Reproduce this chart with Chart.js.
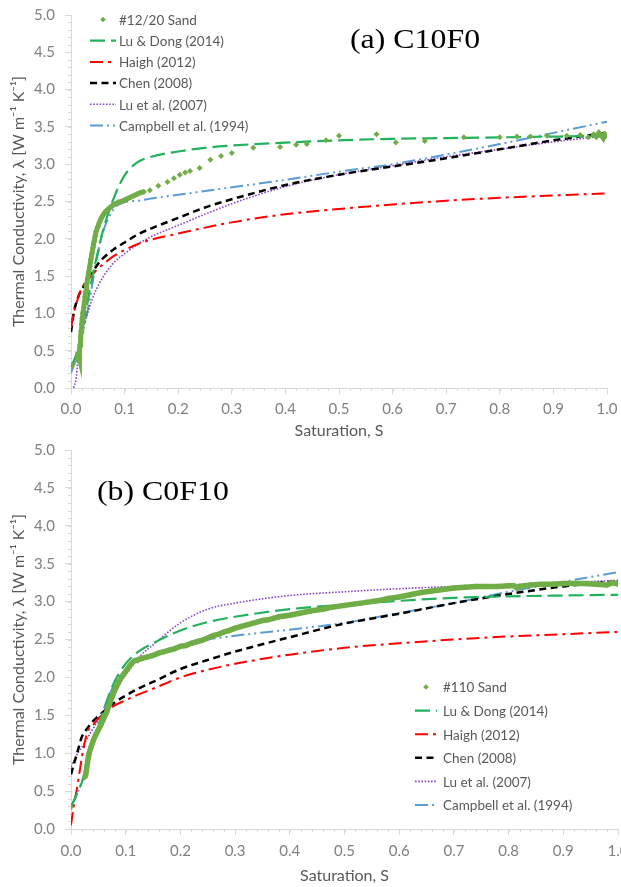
<!DOCTYPE html>
<html>
<head>
<meta charset="utf-8">
<script src="https://cdn.jsdelivr.net/npm/chart.js@4"></script>
<style>
    body { margin: 0; background: #fff; }
    canvas { display: block; }
</style>
</head>
<body>
<canvas id="chartA" width="621" height="440"></canvas>
<canvas id="chartB" width="621" height="447"></canvas>
<script>
// axis ticks
const satTicks = [0, 0.1, 0.2, 0.3, 0.4, 0.5, 0.6, 0.7, 0.8, 0.9, 1.0];
const lambdaTicks = [0, 0.5, 1.0, 1.5, 2.0, 2.5, 3.0, 3.5, 4.0, 4.5, 5.0];

const modelNames = ['Lu & Dong (2014)', 'Haigh (2012)', 'Chen (2008)', 'Lu et al. (2007)', 'Campbell et al. (1994)'];

// saturation grid shared by all model curves
const modelSat = [0, 0.005, 0.01, 0.015, 0.02, 0.03, 0.04, 0.05, 0.06, 0.08, 0.1, 0.125, 0.15, 0.2, 0.25, 0.3, 0.4, 0.5, 0.6, 0.7, 0.8, 0.9, 1.0];

// (a) C10F0 - #12/20 sand
const sandA_S = [0, 0.003, 0.012, 0.013, 0.014, 0.015, 0.015, 0.016, 0.016, 0.017, 0.018, 0.019, 0.02, 0.021, 0.022,
    0.024, 0.025, 0.026, 0.028, 0.029, 0.031, 0.033, 0.035, 0.037, 0.039, 0.041, 0.043, 0.045, 0.047, 0.05,
    0.053, 0.056, 0.06, 0.064, 0.068, 0.073, 0.078, 0.083, 0.088, 0.094, 0.1, 0.106, 0.112, 0.118, 0.124,
    0.13, 0.136, 0.147, 0.163, 0.18, 0.192, 0.203, 0.213, 0.222, 0.24, 0.26, 0.28, 0.3, 0.34, 0.39, 0.42,
    0.44, 0.476, 0.5, 0.57, 0.606, 0.66, 0.733, 0.8, 0.832, 0.857, 0.888, 0.925, 0.95, 0.965, 0.975, 0.98,
    0.985, 0.99, 0.993, 0.996, 1.0];
const sandA_k = [0.29, 0.31, 0.38, 0.4, 0.39, 0.42, 0.45, 0.4, 0.5, 0.58, 0.68, 0.76, 0.85, 0.93, 1.0,
    1.08, 1.15, 1.22, 1.3, 1.38, 1.46, 1.55, 1.63, 1.72, 1.8, 1.88, 1.96, 2.03, 2.1, 2.16,
    2.22, 2.27, 2.32, 2.36, 2.39, 2.42, 2.45, 2.47, 2.49, 2.5, 2.52, 2.54, 2.56, 2.58, 2.6,
    2.62, 2.63, 2.65, 2.71, 2.76, 2.81, 2.86, 2.89, 2.91, 2.95, 3.06, 3.11, 3.15, 3.22, 3.23, 3.26,
    3.27, 3.32, 3.38, 3.4, 3.29, 3.31, 3.36, 3.36, 3.37, 3.37, 3.38, 3.38, 3.39, 3.36, 3.4, 3.37,
    3.42, 3.38, 3.35, 3.4, 3.38];
const luDongA = [0.3, 0.36, 0.45, 0.58, 0.75, 1.12, 1.5, 1.82, 2.12, 2.55, 2.85, 3.03, 3.1, 3.17, 3.22, 3.25, 3.29, 3.32, 3.34, 3.35, 3.36, 3.37, 3.38];
const haighA = [0.8, 1.0, 1.13, 1.25, 1.34, 1.44, 1.52, 1.6, 1.66, 1.77, 1.85, 1.93, 1.99, 2.07, 2.15, 2.22, 2.33, 2.4, 2.46, 2.51, 2.55, 2.58, 2.61];
const chenA = [0.75, 1.0, 1.15, 1.25, 1.32, 1.43, 1.55, 1.66, 1.74, 1.86, 1.95, 2.06, 2.14, 2.28, 2.42, 2.53, 2.72, 2.86, 2.97, 3.08, 3.2, 3.32, 3.42];
const luEtAlA = [null, 0.0, 0.15, 0.55, 0.72, 0.98, 1.2, 1.36, 1.49, 1.68, 1.8, 1.93, 2.03, 2.18, 2.33, 2.47, 2.7, 2.86, 2.98, 3.1, 3.2, 3.3, 3.38];
const campbellA = [0.2, 0.3, 0.4, 0.55, 0.7, 1.0, 1.4, 1.8, 2.1, 2.4, 2.49, 2.51, 2.54, 2.59, 2.64, 2.69, 2.79, 2.9, 3.0, 3.13, 3.27, 3.42, 3.57];

// (b) C0F10 - #110 sand
const sandB_S = [0, 0.025, 0.027, 0.029, 0.031, 0.033, 0.037, 0.041, 0.045, 0.05, 0.055, 0.06, 0.065, 0.07, 0.075,
    0.08, 0.086, 0.092, 0.098, 0.104, 0.11, 0.116, 0.122, 0.13, 0.14,
    0.15, 0.16, 0.17, 0.18, 0.19, 0.2, 0.21, 0.22, 0.23, 0.24, 0.25, 0.26, 0.27, 0.28, 0.29, 0.3,
    0.31, 0.32, 0.33, 0.34, 0.35, 0.36, 0.37, 0.38, 0.39, 0.4,
    0.42, 0.44, 0.46, 0.48, 0.5, 0.52, 0.54, 0.56, 0.58, 0.6, 0.62, 0.64, 0.66, 0.68, 0.7, 0.72, 0.74, 0.76, 0.78, 0.8,
    0.81, 0.815, 0.82, 0.84, 0.86, 0.88, 0.9, 0.92, 0.94, 0.96, 0.98, 0.99, 1.0];
const sandB_k = [0.29, 0.68, 0.72, 0.82, 0.92, 1.0, 1.09, 1.17, 1.24, 1.31, 1.38, 1.46, 1.54, 1.64, 1.74,
    1.83, 1.92, 2.0, 2.06, 2.12, 2.18, 2.22, 2.23, 2.25, 2.27,
    2.29, 2.32, 2.34, 2.36, 2.38, 2.41, 2.42, 2.45, 2.47, 2.49, 2.52, 2.55, 2.57, 2.6, 2.62, 2.65,
    2.67, 2.69, 2.71, 2.73, 2.75, 2.76, 2.78, 2.8, 2.81, 2.82,
    2.85, 2.88, 2.9, 2.93, 2.95, 2.97, 2.99, 3.01, 3.04, 3.06, 3.09, 3.12, 3.14, 3.16, 3.18, 3.19, 3.2, 3.2, 3.2, 3.21,
    3.21, 3.18, 3.2, 3.22, 3.23, 3.23, 3.24, 3.24, 3.24, 3.23, 3.22, 3.25, 3.23];
const luDongB = [0.3, 0.37, 0.45, 0.53, 0.62, 0.85, 1.1, 1.35, 1.58, 1.95, 2.18, 2.35, 2.45, 2.62, 2.73, 2.8, 2.9, 2.96, 3.01, 3.05, 3.07, 3.08, 3.09];
const haighB = [0.05, 0.3, 0.5, 0.72, 0.95, 1.28, 1.37, 1.46, 1.52, 1.63, 1.7, 1.78, 1.85, 2.0, 2.1, 2.18, 2.3, 2.39, 2.45, 2.5, 2.54, 2.57, 2.6];
const chenB = [0.72, 0.85, 0.97, 1.1, 1.22, 1.33, 1.42, 1.49, 1.55, 1.67, 1.76, 1.86, 1.94, 2.11, 2.23, 2.34, 2.53, 2.71, 2.84, 2.98, 3.1, 3.2, 3.27];
const luEtAlB = [0.82, 0.9, 0.97, 1.03, 1.08, 1.2, 1.32, 1.44, 1.56, 1.82, 2.03, 2.27, 2.43, 2.72, 2.9, 2.98, 3.08, 3.13, 3.17, 3.2, 3.22, 3.25, 3.28];
const campbellB = [0.29, 0.37, 0.45, 0.53, 0.62, 0.9, 1.15, 1.38, 1.58, 1.92, 2.1, 2.21, 2.3, 2.42, 2.5, 2.55, 2.63, 2.72, 2.85, 2.98, 3.13, 3.26, 3.39];

const FONT = 'Lato, "Open Sans", sans-serif';
const AXIS_GREY = '#d9d9d9';
const TICK_GREY = '#808080';
const TEXT_GREY = '#595959';
const SAND_GREEN = '#70ad47';

// line looks for the five models, same order as modelNames
const modelStyles = [
    { color: '#21b25b', width: 2.2, dash: [15, 6] },
    { color: '#ff0000', width: 2, dash: [13, 5, 3, 5] },
    { color: '#000000', width: 2.5, dash: [7, 4.5] },
    { color: '#8a46c8', width: 1.6, dash: [1.6, 1.6] },
    { color: '#5b9bd5', width: 2, dash: [13, 4, 2, 4, 2, 4] }
];

function pairs(xs, ys) {
    return xs.map((x, i) => ({ x: x, y: ys[i] }));
}

// minor tick marks on both axes
const minorTicks = {
    id: 'minorTicks',
    afterDraw(chart, args, opts) {
        const ctx = chart.ctx;
        const xs = chart.scales.x, ys = chart.scales.y;
        ctx.save();
        ctx.strokeStyle = AXIS_GREY;
        ctx.lineWidth = 1;
        ctx.beginPath();
        for (let i = 1; i < Math.round((xs.max - xs.min) / opts.xStep); i++) {
            const px = Math.round(xs.getPixelForValue(xs.min + i * opts.xStep)) + 0.5;
            ctx.moveTo(px, ys.bottom);
            ctx.lineTo(px, ys.bottom + 3);
        }
        for (let i = 1; i < Math.round((ys.max - ys.min) / opts.yStep); i++) {
            const py = Math.round(ys.getPixelForValue(ys.min + i * opts.yStep)) + 0.5;
            ctx.moveTo(xs.left, py);
            ctx.lineTo(xs.left - 3, py);
        }
        ctx.stroke();
        ctx.restore();
    }
};

// legend drawn inside the plot area
const insideLegend = {
    id: 'insideLegend',
    afterDraw(chart, args, opts) {
        const ctx = chart.ctx;
        ctx.save();
        ctx.font = opts.fontSize + 'px ' + FONT;
        ctx.textBaseline = 'middle';
        chart.data.datasets.forEach((ds, i) => {
            const cy = opts.y + i * opts.rowHeight;
            const x0 = opts.x, x1 = opts.x + opts.sampleWidth;
            if (ds.pointRadius > 0) {
                const cx = (x0 + x1) / 2, r = 2.8;
                ctx.fillStyle = ds.pointBackgroundColor;
                ctx.beginPath();
                ctx.moveTo(cx, cy - r);
                ctx.lineTo(cx + r, cy);
                ctx.lineTo(cx, cy + r);
                ctx.lineTo(cx - r, cy);
                ctx.closePath();
                ctx.fill();
            } else {
                ctx.save();
                ctx.strokeStyle = ds.borderColor;
                ctx.lineWidth = ds.borderWidth;
                ctx.setLineDash(ds.borderDash);
                ctx.beginPath();
                ctx.moveTo(x0, cy);
                ctx.lineTo(x1, cy);
                ctx.stroke();
                ctx.restore();
            }
            ctx.fillStyle = TEXT_GREY;
            ctx.fillText(ds.label, x1 + opts.gap, cy + 1);
        });
        ctx.restore();
    }
};

// serif panel caption, e.g. "(a) C10F0"
const panelLabel = {
    id: 'panelLabel',
    afterDraw(chart, args, opts) {
        const ctx = chart.ctx;
        ctx.save();
        ctx.translate(opts.x, opts.y);
        ctx.scale(opts.stretch, 1);
        ctx.font = opts.fontSize + 'px "Liberation Serif", "Times New Roman", serif';
        ctx.fillStyle = '#000';
        ctx.textBaseline = 'middle';
        ctx.fillText(opts.text, 0, 0);
        ctx.restore();
    }
};

function makeChart(canvasId, p) {
    const green = SAND_GREEN;
    const datasets = [{
        label: p.sandLabel,
        data: pairs(p.sandS, p.sandK),
        showLine: true,
        borderColor: green,
        borderWidth: p.bandWidth,
        pointRadius: 3,
        pointStyle: 'rectRot',
        pointBackgroundColor: green,
        pointBorderColor: green,
        pointBorderWidth: 0,
        // only readings taken close together run into a continuous band
        segment: {
            borderColor: ctx => (ctx.p1.parsed.x - ctx.p0.parsed.x) > p.maxGap ? 'rgba(0,0,0,0)' : undefined
        }
    }];
    p.models.forEach((vals, i) => {
        const st = modelStyles[i];
        datasets.push({
            label: modelNames[i],
            data: pairs(modelSat, vals),
            showLine: true,
            borderColor: st.color,
            borderWidth: st.width,
            borderDash: st.dash,
            pointRadius: 0,
            cubicInterpolationMode: 'monotone'
        });
    });

    return new Chart(document.getElementById(canvasId), {
        type: 'scatter',
        data: { datasets: datasets },
        options: {
            responsive: false,
            animation: false,
            devicePixelRatio: 1,
            layout: { autoPadding: false, padding: { top: p.padTop, right: p.padRight, left: 0, bottom: 0 } },
            plugins: {
                legend: { display: false },
                tooltip: { enabled: false },
                minorTicks: { xStep: 0.02, yStep: 0.1 },
                insideLegend: p.legend,
                panelLabel: p.caption
            },
            scales: {
                x: {
                    type: 'linear',
                    min: 0,
                    max: 1,
                    afterBuildTicks: s => { s.ticks = satTicks.map(v => ({ value: v })); },
                    afterFit: s => { s.height = p.xAxisHeight; s.paddingLeft = 0; s.paddingRight = 0; },
                    grid: { drawOnChartArea: false, color: AXIS_GREY, tickLength: 6 },
                    border: { color: AXIS_GREY },
                    ticks: {
                        color: TICK_GREY,
                        font: { family: FONT, size: 15 },
                        padding: p.xTickPad,
                        maxRotation: 0,
                        autoSkip: false,
                        callback: v => v.toFixed(1)
                    },
                    title: {
                        display: true,
                        text: 'Saturation, S',
                        color: TEXT_GREY,
                        font: { family: FONT, size: 16 },
                        padding: { top: 0, bottom: p.xTitlePad }
                    }
                },
                y: {
                    type: 'linear',
                    min: 0,
                    max: 5,
                    afterBuildTicks: s => { s.ticks = lambdaTicks.map(v => ({ value: v })); },
                    afterFit: s => { s.width = 71; s.paddingTop = 0; s.paddingBottom = 0; },
                    grid: { drawOnChartArea: false, color: AXIS_GREY, tickLength: 6 },
                    border: { color: AXIS_GREY },
                    ticks: {
                        color: TICK_GREY,
                        font: { family: FONT, size: 15 },
                        padding: 10,
                        callback: v => v.toFixed(1)
                    },
                    title: {
                        display: true,
                        text: 'Thermal Conductivity, \u03bb [W m\u207b\u00b9 K\u207b\u00b9]',
                        color: TEXT_GREY,
                        font: { family: FONT, size: 16 },
                        padding: { top: 9, bottom: 0 }
                    }
                }
            }
        },
        plugins: [minorTicks, insideLegend, panelLabel]
    });
}

makeChart('chartA', {
    sandLabel: '#12/20 Sand',
    sandS: sandA_S,
    sandK: sandA_k,
    models: [luDongA, haighA, chenA, luEtAlA, campbellA],
    bandWidth: 5,
    maxGap: 0.008,
    padTop: 15,
    padRight: 14,
    xAxisHeight: 52,
    xTickPad: 6,
    xTitlePad: 0,
    legend: { x: 90, y: 19.5, rowHeight: 21.2, sampleWidth: 26, gap: 3, fontSize: 13.5 },
    caption: { text: '(a) C10F0', x: 350, y: 41, fontSize: 27, stretch: 1.18 }
});

makeChart('chartB', {
    sandLabel: '#110 Sand',
    sandS: sandB_S,
    sandK: sandB_k,
    models: [luDongB, haighB, chenB, luEtAlB, campbellB],
    bandWidth: 5.5,
    maxGap: 0.021,
    padTop: 10,
    padRight: 3,
    xAxisHeight: 58,
    xTickPad: 7,
    xTitlePad: 2,
    legend: { x: 415, y: 247, rowHeight: 23.6, sampleWidth: 22, gap: 6, fontSize: 13.5 },
    caption: { text: '(b) C0F10', x: 97, y: 53, fontSize: 27, stretch: 1.18 }
});
</script>
</body>
</html>
